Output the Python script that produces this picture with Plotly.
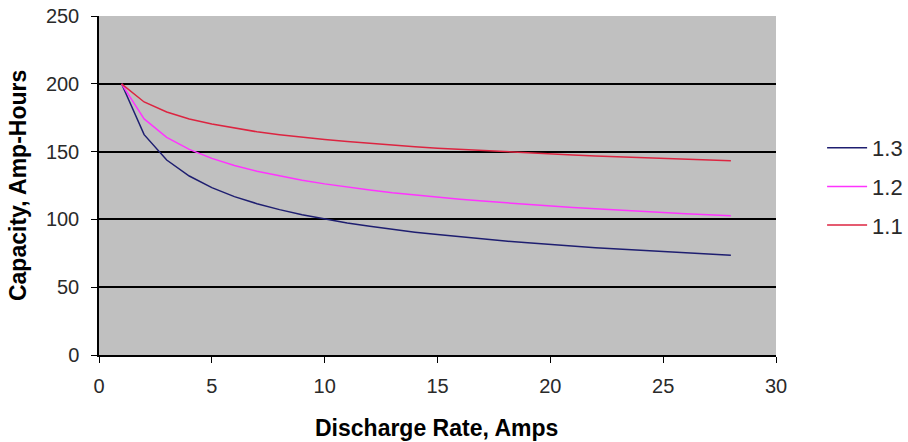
import plotly.graph_objects as go

rate = list(range(1, 29))
cap_13 = [200, 162.5, 143.8, 132.0, 123.4, 116.8, 111.6, 107.2, 103.5, 100.2,
          97.4, 94.9, 92.6, 90.6, 88.8, 87.1, 85.5, 84.0, 82.7, 81.4,
          80.2, 79.1, 78.1, 77.1, 76.1, 75.3, 74.4, 73.6]
cap_12 = [200, 174.1, 160.5, 151.6, 145.0, 139.8, 135.5, 132.0, 128.9, 126.2,
          123.8, 121.7, 119.7, 118.0, 116.4, 114.9, 113.5, 112.2, 111.0, 109.9,
          108.8, 107.8, 106.8, 105.9, 105.1, 104.2, 103.5, 102.7]
cap_11 = [200, 186.6, 179.2, 174.1, 170.3, 167.2, 164.6, 162.5, 160.5, 158.9,
          157.4, 156.0, 154.8, 153.6, 152.5, 151.6, 150.7, 149.8, 149.0, 148.2,
          147.5, 146.8, 146.2, 145.5, 145.0, 144.4, 143.8, 143.3]
series_names = ["1.3", "1.2", "1.1"]
colors = ["#1e1e70", "#ff33ff", "#dc2440"]
x_title = "Discharge Rate, Amps"
y_title = "Capacity, Amp-Hours"

fig = go.Figure()
for name, vals, c in zip(series_names, [cap_13, cap_12, cap_11], colors):
    fig.add_trace(go.Scatter(x=rate, y=vals, name=name, mode="lines",
                             legendgroup=name,
                             line=dict(color=c, width=1.5)))

font = "Liberation Sans, Arial, sans-serif"
fig.update_layout(
    width=908, height=442, autosize=False,
    margin=dict(l=99, r=132, t=16, b=87),
    paper_bgcolor="white", plot_bgcolor="#c0c0c0",
    font=dict(family=font, size=20, color="#2a2a2a"),
    showlegend=True,
    legend=dict(xref="container", yref="container",
                x=0.9054, y=0.578, xanchor="left", yanchor="middle",
                font=dict(size=22, color="#2a2a2a"), bgcolor="rgba(0,0,0,0)",
                tracegroupgap=7, itemwidth=40),
    xaxis=dict(range=[0, 30], tickvals=[0, 5, 10, 15, 20, 25, 30],
               showgrid=False, zeroline=False, showline=True, linecolor="black",
               linewidth=1.5, ticks="outside", ticklen=6, tickcolor="black",
               automargin=False, tickfont=dict(size=20), ticklabelstandoff=6),
    yaxis=dict(range=[0, 250], tickvals=[0, 50, 100, 150, 200, 250],
               showgrid=True, gridcolor="black", gridwidth=2,
               zeroline=False, showline=True, linecolor="black", linewidth=1.5,
               ticks="outside", ticklen=6, tickcolor="black",
               automargin=False, tickfont=dict(size=20), ticklabelstandoff=8),
    annotations=[
        dict(text="<b>" + x_title + "</b>", xref="paper", yref="paper",
             x=0.4985, y=-0.215, xanchor="center", yanchor="middle",
             showarrow=False, font=dict(size=23, color="black")),
        dict(text="<b>" + y_title + "</b>", xref="paper", yref="paper",
             x=-0.1196, y=0.4985, xanchor="center", yanchor="middle",
             textangle=-90, showarrow=False, font=dict(size=23, color="black")),
    ],
)
fig.write_html("out.html",
               config={"displayModeBar": False, "responsive": False},
               post_script="document.body.style.margin='0';document.body.style.overflow='hidden';")
